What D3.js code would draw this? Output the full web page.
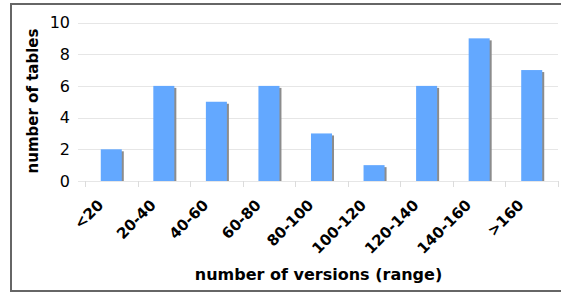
<!DOCTYPE html>
<html><head><meta charset="utf-8">
<script src="https://cdn.jsdelivr.net/npm/d3@7"></script>
<style>body{margin:0;background:#fff}svg{display:block}</style>
</head><body>
<svg id="c" width="561" height="293"></svg>
<script>
const categories = ["<20","20-40","40-60","60-80","80-100","100-120","120-140","140-160",">160"];
const values = [2,6,5,6,3,1,6,9,7];
const yTicks = [0,2,4,6,8,10];
const xTitle = "number of versions (range)";
const yTitle = "number of tables";

const svg = d3.select("#c");
const font = "DejaVu Sans, Verdana, sans-serif";
const L = 85, R = 558, T = 22.5, B = 181;

svg.append("rect").attr("x",11).attr("y",4).attr("width",560).attr("height",287)
  .attr("fill","#fff").attr("stroke","#666").attr("stroke-width",2);

const x = d3.scaleBand().domain(categories).range([L,R]).padding(0);
const y = d3.scaleLinear().domain([0,10]).range([B,T]);

// grid
svg.append("g").selectAll("line").data(yTicks).join("line")
  .attr("x1",L-7).attr("x2",R).attr("y1",d=>Math.round(y(d))+0.5).attr("y2",d=>Math.round(y(d))+0.5)
  .attr("stroke","#e6e6e6").attr("stroke-width",1);
// x ticks
const bounds = categories.map(c=>x(c)).concat([R]);
svg.append("g").selectAll("line").data(bounds).join("line")
  .attr("x1",d=>Math.round(d)+0.5).attr("x2",d=>Math.round(d)+0.5).attr("y1",B).attr("y2",B+6)
  .attr("stroke","#dcdcdc");

// y labels
svg.append("g").selectAll("text").data(yTicks).join("text")
  .attr("x",70).attr("y",d=>y(d)).attr("dy","0.36em").attr("text-anchor","end")
  .attr("font-family",font).attr("font-size",16).attr("fill","#000").text(d=>d);

// bars
const bw = x.bandwidth()*0.4;
const bars = svg.append("g");
bars.selectAll("rect.s").data(values).join("rect").attr("class","s")
  .attr("x",(d,i)=>x(categories[i])+(x.bandwidth()-bw)/2+2)
  .attr("y",d=>y(d)+2).attr("width",bw).attr("height",d=>B-y(d)-2)
  .attr("fill","#8c8c8c");
bars.selectAll("rect.b").data(values).join("rect").attr("class","b")
  .attr("x",(d,i)=>x(categories[i])+(x.bandwidth()-bw)/2)
  .attr("y",d=>y(d)).attr("width",bw).attr("height",d=>B-y(d))
  .attr("fill","#63a8ff");

// x labels
svg.append("g").selectAll("text").data(categories).join("text")
  .attr("transform",d=>`translate(${x(d)+x.bandwidth()/2-7},${B+25}) rotate(-45)`)
  .attr("text-anchor","end").attr("font-family",font).attr("font-weight","bold")
  .attr("font-size",15).attr("fill","#000").text(d=>d);

// titles
svg.append("text").attr("x",(L+R)/2-3).attr("y",280).attr("text-anchor","middle")
  .attr("font-family",font).attr("font-weight","bold").attr("font-size",16).text(xTitle);
svg.append("text").attr("transform",`translate(38,${(29+173)/2}) rotate(-90)`).attr("text-anchor","middle")
  .attr("font-family",font).attr("font-weight","bold").attr("font-size",15).text(yTitle);
</script>
</body></html>
